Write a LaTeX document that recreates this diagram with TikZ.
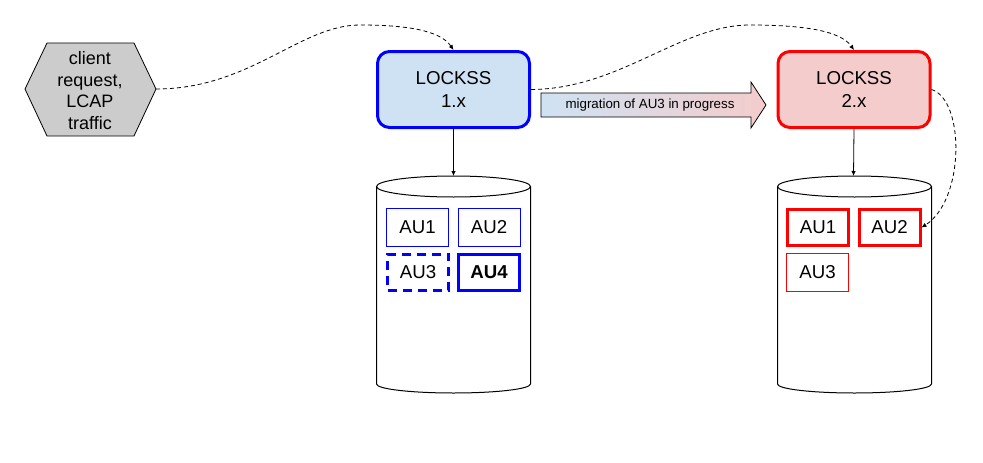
\documentclass[tikz,border=0pt]{standalone}
\usepackage{fontspec}
\setmainfont{Liberation Sans}
\usetikzlibrary{arrows.meta}
\definecolor{bluefill}{HTML}{CFE2F3}
\definecolor{redfill}{HTML}{F4CCCC}
\definecolor{hexfill}{HTML}{CCCCCC}
\definecolor{pureblue}{HTML}{0000FF}
\definecolor{purered}{HTML}{FF0000}
\begin{document}
\begin{tikzpicture}[x=1pt,y=-1pt,
  lockss/.style={draw, rounded corners=12pt, line width=3pt, minimum width=152pt, minimum height=76pt, inner sep=0pt, align=center, font=\fontsize{18.67}{22.7}\selectfont},
  authin/.style={draw, line width=1pt, minimum width=62pt, minimum height=38pt, inner sep=0pt, font=\fontsize{18.67}{22}\selectfont},
  authick/.style={draw, line width=3pt, minimum width=61pt, minimum height=36pt, inner sep=0pt, font=\fontsize{18.67}{22}\selectfont},
  conn/.style={-{Latex[length=5pt,width=4.5pt]}, line width=0.8pt},
  dconn/.style={conn, dash pattern=on 4pt off 3pt},
  cylline/.style={line width=1pt}
]
\useasboundingbox (0,0) rectangle (983,463);

% hexagon
\filldraw[fill=hexfill, draw=black, line width=0.8pt]
  (25,89) -- (47,43) -- (134,43) -- (156,89) -- (134,136) -- (47,136) -- cycle;
\node[align=center, font=\fontsize{18}{21.8}\selectfont] (client) at (90,90.5) {client\\request,\\LCAP\\traffic};
\coordinate (hexR) at (156,89);

% LOCKSS boxes
\node[lockss, draw=pureblue, fill=bluefill] (l1) at (453.5,89.5) {LOCKSS\\1.x};
\node[lockss, draw=purered, fill=redfill] (l2) at (854,89.5) {LOCKSS\\2.x};

% migration arrow
\shadedraw[left color=bluefill, right color=redfill, draw=black, line width=0.8pt]
  (541,93) -- (751,93) -- (751,82) -- (766,105) -- (751,128) -- (751,117) -- (541,117) -- cycle;
\node[font=\fontsize{13.33}{16}\selectfont] (mig) at (650,105.5) {migration of AU3 in progress};

% cylinders
\draw[cylline, fill=white] (376.5,186.5) -- (376.5,384)
  .. controls (376.5,389) and (411,393) .. (453.5,393)
  .. controls (496,393) and (530.5,389) .. (530.5,384) -- (530.5,186.5);
\draw[cylline] (453.5,186.5) ellipse[x radius=77pt, y radius=10.5pt];
\coordinate (c1top) at (453.5,176);

\draw[cylline, fill=white] (777.5,186.5) -- (777.5,384)
  .. controls (777.5,389) and (812,393) .. (854.5,393)
  .. controls (897,393) and (931.5,389) .. (931.5,384) -- (931.5,186.5);
\draw[cylline] (854.5,186.5) ellipse[x radius=77pt, y radius=10.5pt];
\coordinate (c2top) at (853.5,176);

% AU boxes (1.x)
\node[authin, draw=pureblue] (b1) at (417.5,227.5) {AU1};
\node[authin, draw=pureblue] (b2) at (489,227.5) {AU2};
\node[authick, draw=pureblue, dash pattern=on 9pt off 6pt] (b3) at (418,272) {AU3};
\node[authick, draw=pureblue, font=\fontsize{18.67}{22}\selectfont\bfseries] (b4) at (489,272) {AU4};

% AU boxes (2.x)
\node[authick, draw=purered] (r1) at (818,227.5) {AU1};
\node[authick, draw=purered] (r2) at (889.5,227.5) {AU2};
\node[authin, draw=purered] (r3) at (817.5,272) {AU3};

% connectors
\draw[conn] (l1.south) -- (c1top);
\draw[conn] (l2.south) -- (c2top);
\draw[dconn] (hexR) .. controls (250,89) and (300,25) .. (360,25)
  .. controls (405,25) and (440,30) .. (l1.north);
\draw[dconn] (l1.east) .. controls (620,89) and (680,25) .. (750,25)
  .. controls (800,25) and (840,30) .. (l2.north);
\draw[dconn] (l2.east) .. controls (965,100) and (965,200) .. (r2.east);
\end{tikzpicture}
\end{document}
